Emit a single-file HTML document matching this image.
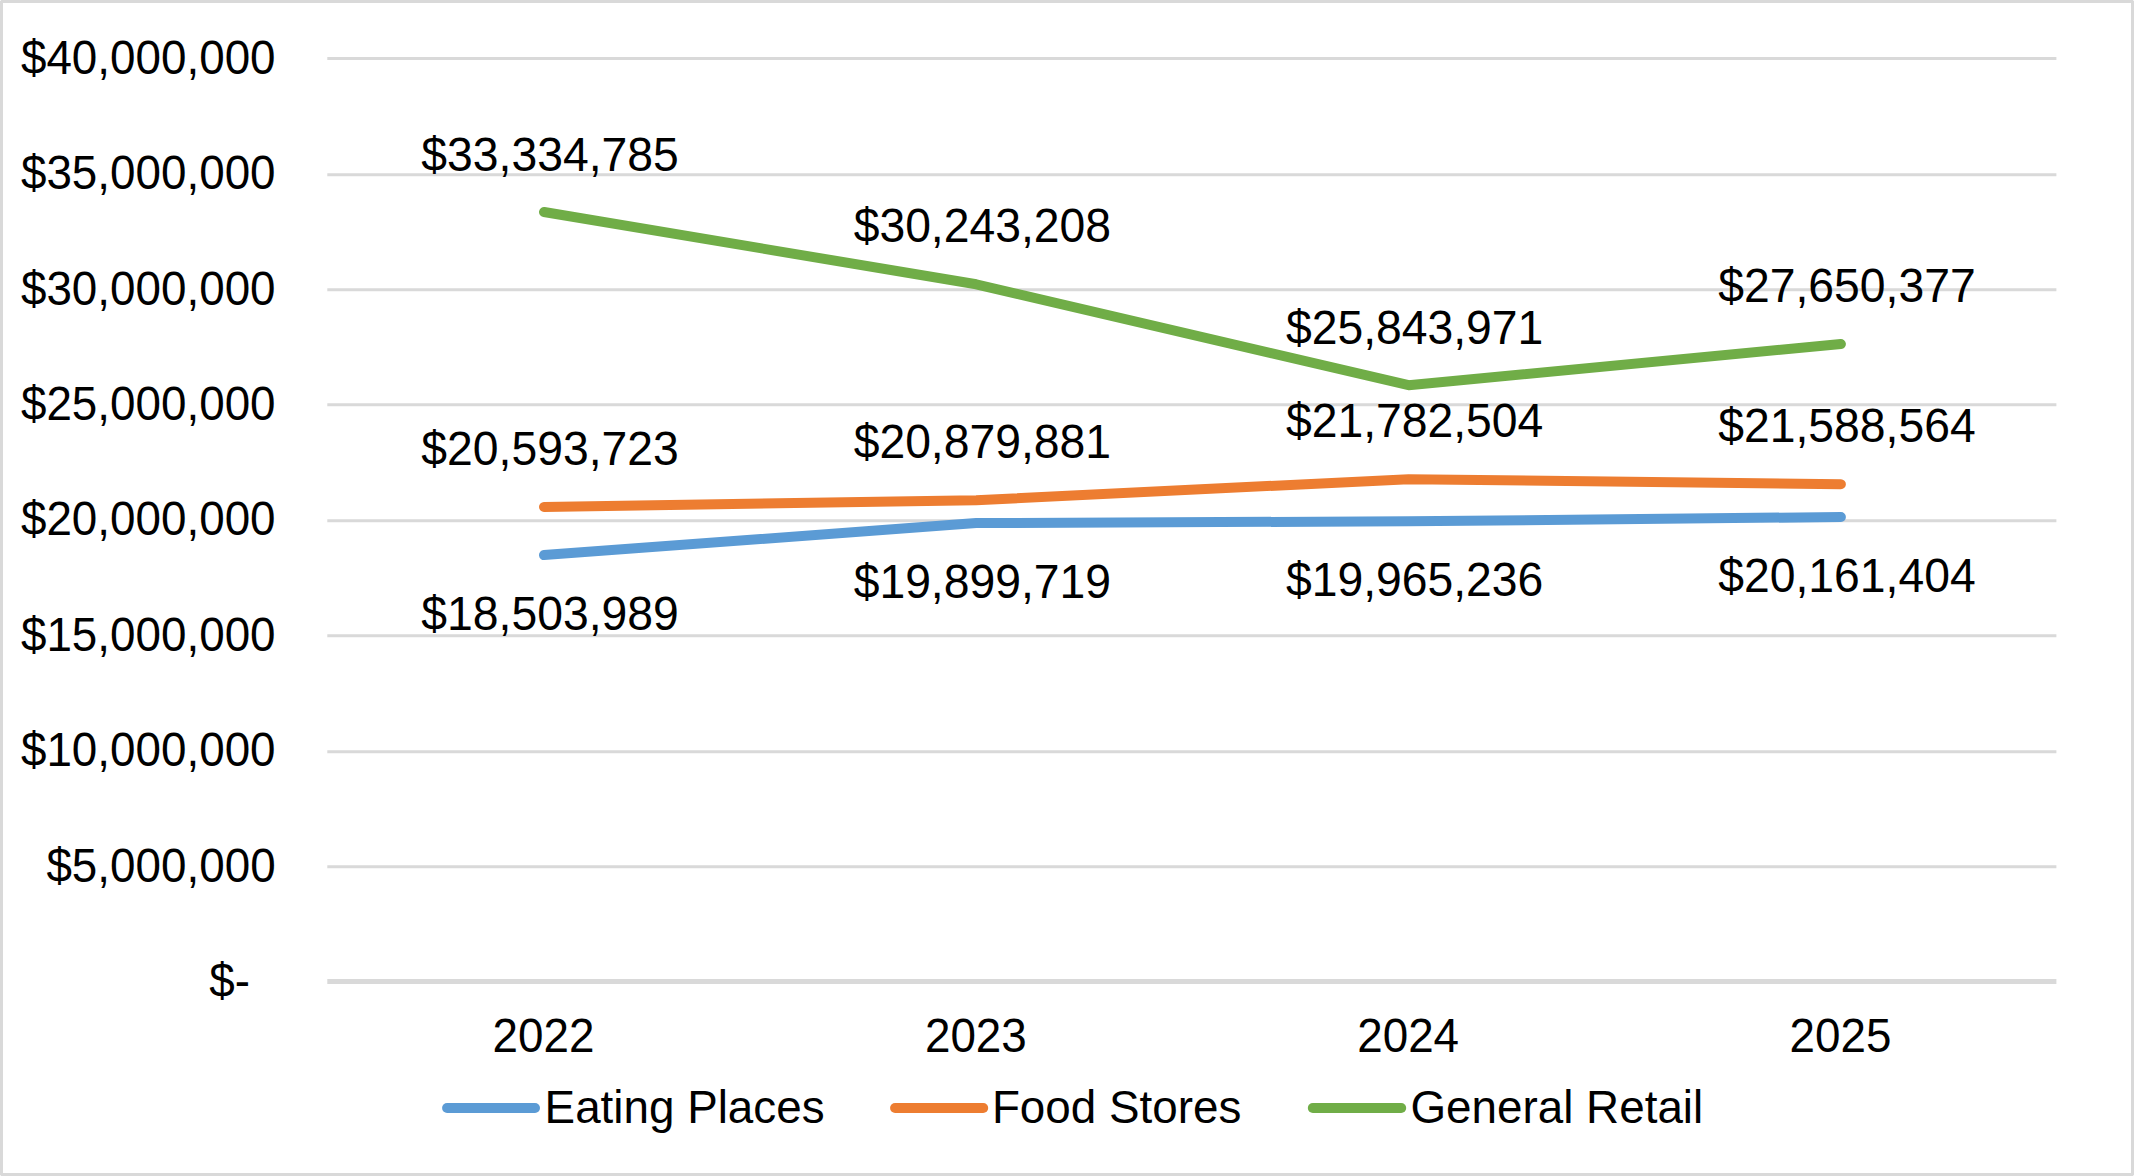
<!DOCTYPE html>
<html lang="en"><head><meta charset="utf-8"><title>Chart</title>
<style>html,body{margin:0;padding:0;background:#fff}body{width:2134px;height:1176px;overflow:hidden}svg{display:block}text{font-family:"Liberation Sans",Arial,sans-serif;font-size:45.8px;fill:#000}text.d{font-size:46.3px}</style></head><body>
<svg width="2134" height="1176" viewBox="0 0 2134 1176">
<rect x="0" y="0" width="2134" height="1176" fill="#fff"/>
<rect x="1.5" y="1.5" width="2131" height="1173" fill="none" stroke="#D9D9D9" stroke-width="3"/>
<rect x="0" y="0" width="1" height="1" fill="#F3F3F3"/>
<rect x="2133" y="0" width="1" height="1" fill="#F3F3F3"/>
<rect x="0" y="1175" width="1" height="1" fill="#F3F3F3"/>
<rect x="2133" y="1175" width="1" height="1" fill="#F3F3F3"/>
<line x1="327.3" y1="58.50" x2="2056.4" y2="58.50" stroke="#D9D9D9" stroke-width="3"/>
<line x1="327.3" y1="174.70" x2="2056.4" y2="174.70" stroke="#D9D9D9" stroke-width="3"/>
<line x1="327.3" y1="289.70" x2="2056.4" y2="289.70" stroke="#D9D9D9" stroke-width="3"/>
<line x1="327.3" y1="404.70" x2="2056.4" y2="404.70" stroke="#D9D9D9" stroke-width="3"/>
<line x1="327.3" y1="520.70" x2="2056.4" y2="520.70" stroke="#D9D9D9" stroke-width="3"/>
<line x1="327.3" y1="635.70" x2="2056.4" y2="635.70" stroke="#D9D9D9" stroke-width="3"/>
<line x1="327.3" y1="751.70" x2="2056.4" y2="751.70" stroke="#D9D9D9" stroke-width="3"/>
<line x1="327.3" y1="866.70" x2="2056.4" y2="866.70" stroke="#D9D9D9" stroke-width="3"/>
<line x1="327.3" y1="981.50" x2="2056.4" y2="981.50" stroke="#D9D9D9" stroke-width="5"/>
<text transform="translate(275.60,74) scale(1,1.04)" text-anchor="end">$40,000,000</text>
<text transform="translate(275.60,189) scale(1,1.04)" text-anchor="end">$35,000,000</text>
<text transform="translate(275.60,305) scale(1,1.04)" text-anchor="end">$30,000,000</text>
<text transform="translate(275.60,420) scale(1,1.04)" text-anchor="end">$25,000,000</text>
<text transform="translate(275.60,535) scale(1,1.04)" text-anchor="end">$20,000,000</text>
<text transform="translate(275.60,651) scale(1,1.04)" text-anchor="end">$15,000,000</text>
<text transform="translate(275.60,766) scale(1,1.04)" text-anchor="end">$10,000,000</text>
<text transform="translate(275.60,882) scale(1,1.04)" text-anchor="end">$5,000,000</text>
<text transform="translate(209.30,997) scale(1,1.04)">$-</text>
<polyline points="544.0,555.1 976.2,523.1 1408.6,521.3 1840.9,517.0" fill="none" stroke="#5B9BD5" stroke-width="10" stroke-linecap="round" stroke-linejoin="round"/>
<polyline points="544.0,506.9 976.2,500.3 1408.6,479.2 1840.9,484.2" fill="none" stroke="#ED7D31" stroke-width="10" stroke-linecap="round" stroke-linejoin="round"/>
<polyline points="544.0,212.0 976.2,284.3 1408.6,385.2 1840.9,344.0" fill="none" stroke="#70AD47" stroke-width="10" stroke-linecap="round" stroke-linejoin="round"/>
<text class="d" transform="translate(421.35,630) scale(1,1.04)">$18,503,989</text>
<text class="d" transform="translate(853.65,598) scale(1,1.04)">$19,899,719</text>
<text class="d" transform="translate(1285.95,596) scale(1,1.04)">$19,965,236</text>
<text class="d" transform="translate(1718.25,592) scale(1,1.04)">$20,161,404</text>
<text class="d" transform="translate(421.35,465) scale(1,1.04)">$20,593,723</text>
<text class="d" transform="translate(853.65,458) scale(1,1.04)">$20,879,881</text>
<text class="d" transform="translate(1285.95,437) scale(1,1.04)">$21,782,504</text>
<text class="d" transform="translate(1718.25,442) scale(1,1.04)">$21,588,564</text>
<text class="d" transform="translate(421.35,171) scale(1,1.04)">$33,334,785</text>
<text class="d" transform="translate(853.65,242) scale(1,1.04)">$30,243,208</text>
<text class="d" transform="translate(1285.95,344) scale(1,1.04)">$25,843,971</text>
<text class="d" transform="translate(1718.25,302) scale(1,1.04)">$27,650,377</text>
<text transform="translate(543.55,1052) scale(1,1.04)" text-anchor="middle">2022</text>
<text transform="translate(975.85,1052) scale(1,1.04)" text-anchor="middle">2023</text>
<text transform="translate(1408.15,1052) scale(1,1.04)" text-anchor="middle">2024</text>
<text transform="translate(1840.45,1052) scale(1,1.04)" text-anchor="middle">2025</text>
<line x1="447.1" y1="1108" x2="535.0" y2="1108" stroke="#5B9BD5" stroke-width="10" stroke-linecap="round"/>
<text transform="translate(544.60,1123) scale(1,1.02)">Eating Places</text>
<line x1="895.1" y1="1108" x2="983.2" y2="1108" stroke="#ED7D31" stroke-width="10" stroke-linecap="round"/>
<text transform="translate(991.90,1123) scale(1,1.02)">Food Stores</text>
<line x1="1312.8" y1="1108" x2="1401.2" y2="1108" stroke="#70AD47" stroke-width="10" stroke-linecap="round"/>
<text transform="translate(1410.50,1123) scale(1,1.02)">General Retail</text>
</svg></body></html>
